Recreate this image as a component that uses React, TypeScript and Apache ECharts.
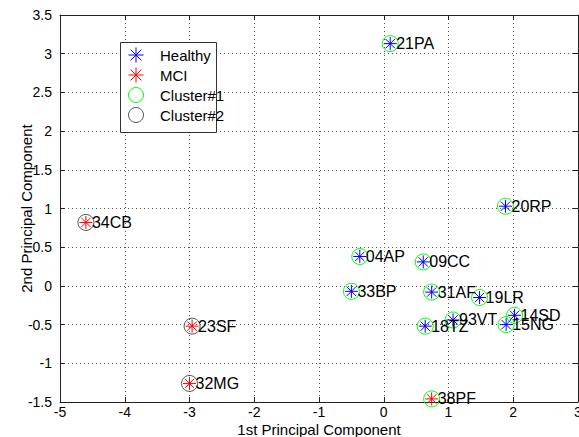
import React, { useEffect, useRef } from "react";
import * as echarts from "echarts";

const names = ["21PA", "20RP", "34CB", "04AP", "09CC", "33BP", "31AF", "19LR", "14SD", "15NG", "93VT", "18TZ", "38PF", "23SF", "32MG"];
const pc1 = [0.1, 1.88, -4.6, -0.37, 0.61, -0.5, 0.74, 1.48, 2.02, 1.89, 1.07, 0.64, 0.74, -2.96, -3.0];
const pc2 = [3.13, 1.03, 0.82, 0.38, 0.31, -0.07, -0.08, -0.15, -0.38, -0.5, -0.44, -0.52, -1.46, -0.52, -1.26];
const diagnosis = ["Healthy", "Healthy", "MCI", "Healthy", "Healthy", "Healthy", "Healthy", "Healthy", "Healthy", "Healthy", "Healthy", "Healthy", "MCI", "MCI", "MCI"];
const cluster = [1, 1, 2, 1, 1, 1, 1, 1, 1, 1, 1, 1, 1, 2, 2];

const xTicks = { min: -5, max: 3, interval: 1 };
const yTicks = { min: -1.5, max: 3.5, interval: 0.5 };

const STAR = "path://M0,-1L0,1M-1,0L1,0M-0.72,-0.72L0.72,0.72M-0.72,0.72L0.72,-0.72";
const FONT = "Liberation Sans, Arial, Helvetica, sans-serif";

function pointsWhere(pred: (i: number) => boolean) {
  const out: any[] = [];
  names.forEach((n, i) => {
    if (pred(i)) out.push({ name: n, value: [pc1[i], pc2[i]] });
  });
  return out;
}

export default function App() {
  const ref = useRef<HTMLDivElement>(null);
  useEffect(() => {
    if (!ref.current) return;
    const chart = echarts.init(ref.current, undefined, { renderer: "svg" });
    const axisLine = { show: true, onZero: false, lineStyle: { color: "#222", width: 1 } };
    const tickIn = { show: true, inside: true, length: 5, lineStyle: { color: "#222" } };
    const gridLine = { show: true, lineStyle: { color: "#555", type: [1, 3] as any, width: 1 } };
    const starLabel = {
      show: true,
      formatter: "{b}",
      position: "right" as const,
      distance: -3,
      color: "#000",
      textBorderWidth: 0,
      fontSize: 16,
      fontFamily: FONT,
    };
    chart.setOption({
      animation: false,
      backgroundColor: "#fff",
      grid: { left: 60, right: 1, top: 15, bottom: 35, containLabel: false, outerBoundsMode: "none" },
      xAxis: [
        {
          type: "value",
          ...xTicks,
          position: "bottom",
          name: "1st Principal Component",
          nameLocation: "middle",
          nameGap: 20,
          nameMoveOverlap: false,
          nameTextStyle: { fontSize: 15, fontFamily: FONT, color: "#000", lineHeight: 15 },
          axisLine,
          axisTick: tickIn,
          splitLine: gridLine,
          axisLabel: { fontSize: 14, fontFamily: FONT, color: "#000", margin: 3, lineHeight: 14 },
        },
        {
          type: "value",
          ...xTicks,
          position: "top",
          axisLine,
          axisTick: tickIn,
          splitLine: { show: false },
          axisLabel: { show: false },
        },
      ],
      yAxis: [
        {
          type: "value",
          ...yTicks,
          position: "left",
          name: "2nd Principal Component",
          nameLocation: "middle",
          nameGap: 26,
          nameMoveOverlap: false,
          nameTextStyle: { fontSize: 15, fontFamily: FONT, color: "#000" },
          axisLine,
          axisTick: tickIn,
          splitLine: gridLine,
          axisLabel: { fontSize: 14, fontFamily: FONT, color: "#000", margin: 8 },
        },
        {
          type: "value",
          ...yTicks,
          position: "right",
          axisLine,
          axisTick: tickIn,
          splitLine: { show: false },
          axisLabel: { show: false },
        },
      ],
      graphic: [
        {
          type: "rect",
          z: 10,
          shape: { x: 120.5, y: 42.5, width: 96, height: 90 },
          style: { fill: "#fff", stroke: "#333", lineWidth: 1 },
        },
      ],
      legend: {
        z: 20,
        orient: "vertical",
        left: 120,
        top: 42,
        padding: [3, 4, 4, 6],
        itemWidth: 38,
        itemHeight: 15,
        itemGap: 0,
        selectedMode: false,
        textStyle: { fontSize: 15, fontFamily: FONT, color: "#000", lineHeight: 14 },
        data: [
          { name: "Healthy", icon: STAR, itemStyle: { color: "none", borderColor: "#0000ff", borderWidth: 1, opacity: 1 } },
          { name: "MCI", icon: STAR, itemStyle: { color: "none", borderColor: "#ff0000", borderWidth: 1, opacity: 1 } },
          { name: "Cluster#1", icon: "circle", itemStyle: { color: "none", borderColor: "#00ff00", borderWidth: 1, opacity: 1 } },
          { name: "Cluster#2", icon: "circle", itemStyle: { color: "none", borderColor: "#555", borderWidth: 1, opacity: 1 } },
        ],
      },
      series: [
        {
          name: "Cluster#1",
          type: "scatter",
          symbol: "circle",
          symbolSize: 16,
          itemStyle: { color: "none", borderColor: "#00ff00", borderWidth: 1, opacity: 1 },
          data: pointsWhere((i) => cluster[i] === 1),
          z: 2,
        },
        {
          name: "Cluster#2",
          type: "scatter",
          symbol: "circle",
          symbolSize: 16,
          itemStyle: { color: "none", borderColor: "#555", borderWidth: 1, opacity: 1 },
          data: pointsWhere((i) => cluster[i] === 2),
          z: 2,
        },
        {
          name: "Healthy",
          type: "scatter",
          symbol: STAR,
          symbolSize: 13,
          itemStyle: { color: "none", borderColor: "#0000ff", borderWidth: 1, opacity: 1 },
          label: starLabel,
          data: pointsWhere((i) => diagnosis[i] === "Healthy"),
          z: 3,
        },
        {
          name: "MCI",
          type: "scatter",
          symbol: STAR,
          symbolSize: 13,
          itemStyle: { color: "none", borderColor: "#ff0000", borderWidth: 1, opacity: 1 },
          label: starLabel,
          data: pointsWhere((i) => diagnosis[i] === "MCI"),
          z: 3,
        },
      ],
    });
    return () => chart.dispose();
  }, []);
  return (
    <div
      ref={ref}
      style={{ position: "fixed", left: 0, top: 0, width: 579, height: 437, background: "#fff" }}
    />
  );
}
